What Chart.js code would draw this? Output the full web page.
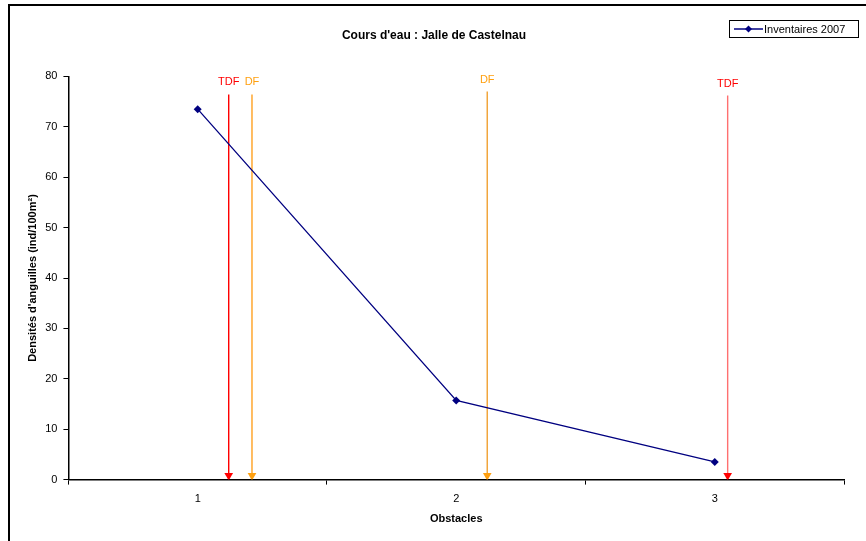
<!DOCTYPE html>
<html lang="fr">
<head>
    <meta charset="UTF-8">
    <title>Cours d'eau : Jalle de Castelnau</title>
    <style>
        body { margin: 0; background: white; }
        #wrap { position: relative; width: 866px; height: 541px; }
        #frame {
            position: absolute; left: 8px; top: 4px; width: 870px; height: 560px;
            border: 2px solid black; box-sizing: border-box; pointer-events: none;
        }
    </style>
</head>
<body>
<div id="wrap">
    <canvas id="chart" width="866" height="541"></canvas>
    <div id="frame"></div>
</div>
<script src="https://cdn.jsdelivr.net/npm/chart.js@4.4.0/dist/chart.umd.min.js"></script>
<script>
    // données
    const obstacles = ['1', '2', '3'];
    const densites = [73.5, 15.7, 3.5];

    // flèches (position x sur l'axe continu, haut, bas)
    const fleches = [
        { label: 'TDF', x: 1.12, haut: 76.4, bas: 0.8, couleur: '#ff0000', trait: '#ff0000', texte: 78.8 },
        { label: 'DF', x: 1.21, haut: 76.4, bas: 0.8, couleur: '#ffa010', trait: '#ffa020', texte: 78.8 },
        { label: 'DF', x: 2.12, haut: 77.0, bas: 0.8, couleur: '#ffa010', trait: '#f0a030', texte: 79.2 },
        { label: 'TDF', x: 3.05, haut: 76.2, bas: 0.8, couleur: '#ff0000', trait: '#ff7070', texte: 78.4 },
    ];

    const font = 'Liberation Sans, Arial, sans-serif';
    Chart.defaults.font.family = font;
    Chart.defaults.color = '#000';

    const flecheDatasets = fleches.map(f => ({
        type: 'line',
        xAxisID: 'x2',
        data: [{ x: f.x, y: f.haut }, { x: f.x, y: f.bas }],
        borderColor: f.trait,
        backgroundColor: f.couleur,
        borderWidth: 1.4,
        pointRadius: [0, 5],
        pointStyle: 'triangle',
        rotation: 180,
        pointBorderWidth: 0,
    }));

    const annotations = {
        id: 'annotations',
        afterDatasetsDraw(chart) {
            const ctx = chart.ctx;
            const x2 = chart.scales.x2, y = chart.scales.y;
            ctx.save();
            ctx.font = '11px ' + font;
            ctx.textAlign = 'center';
            ctx.textBaseline = 'middle';
            fleches.forEach(f => {
                ctx.fillStyle = f.couleur;
                ctx.fillText(f.label, x2.getPixelForValue(f.x), y.getPixelForValue(f.texte));
            });
            // légende
            const lx = 729, ly = 20, lw = 129, lh = 17;
            ctx.fillStyle = 'white';
            ctx.fillRect(lx, ly, lw, lh);
            ctx.strokeStyle = '#000';
            ctx.lineWidth = 1;
            ctx.strokeRect(lx + 0.5, ly + 0.5, lw, lh);
            ctx.strokeStyle = '#000080';
            ctx.lineWidth = 1.5;
            ctx.beginPath();
            ctx.moveTo(lx + 5, ly + 9);
            ctx.lineTo(lx + 34, ly + 9);
            ctx.stroke();
            ctx.fillStyle = '#000080';
            ctx.beginPath();
            ctx.moveTo(lx + 19.5, ly + 5.5);
            ctx.lineTo(lx + 23, ly + 9);
            ctx.lineTo(lx + 19.5, ly + 12.5);
            ctx.lineTo(lx + 16, ly + 9);
            ctx.closePath();
            ctx.fill();
            ctx.fillStyle = '#000';
            ctx.textAlign = 'left';
            ctx.fillText('Inventaires 2007', lx + 35, ly + 9.5);
            ctx.restore();
        }
    };

    new Chart(document.getElementById('chart'), {
        type: 'line',
        data: {
            labels: obstacles,
            datasets: [{
                label: 'Inventaires 2007',
                data: densites,
                borderColor: '#000080',
                backgroundColor: '#000080',
                borderWidth: 1.3,
                pointStyle: 'rectRot',
                pointRadius: 4,
                pointBorderWidth: 0,
            }, ...flecheDatasets]
        },
        options: {
            responsive: false,
            animation: false,
            layout: { padding: { left: 24, right: 22, top: 0, bottom: 11 } },
            plugins: {
                legend: { display: false },
                tooltip: { enabled: false },
                title: {
                    display: true,
                    text: "Cours d'eau : Jalle de Castelnau",
                    font: { size: 12, weight: 'bold' },
                    padding: { top: 28, bottom: 34 },
                }
            },
            scales: {
                x: {
                    type: 'category',
                    offset: true,
                    grid: { offset: true, drawOnChartArea: false, color: '#000', tickLength: 5 },
                    border: { color: '#000', width: 1.5 },
                    ticks: { font: { size: 11 }, padding: 8 },
                    title: { display: true, text: 'Obstacles', font: { size: 11, weight: 'bold' }, padding: { top: -1 } }
                },
                x2: {
                    type: 'linear',
                    display: false,
                    min: 0.5, max: 3.5,
                },
                y: {
                    min: 0, max: 80,
                    ticks: { stepSize: 10, font: { size: 11 }, padding: 6 },
                    grid: { drawOnChartArea: false, color: '#000', tickLength: 5 },
                    border: { color: '#000', width: 1.5 },
                    title: { display: true, text: "Densités d'anguilles (ind/100m²)", font: { size: 11, weight: 'bold' }, padding: { top: 2, bottom: 0 } }
                }
            }
        },
        plugins: [annotations]
    });
</script>
</body>
</html>
